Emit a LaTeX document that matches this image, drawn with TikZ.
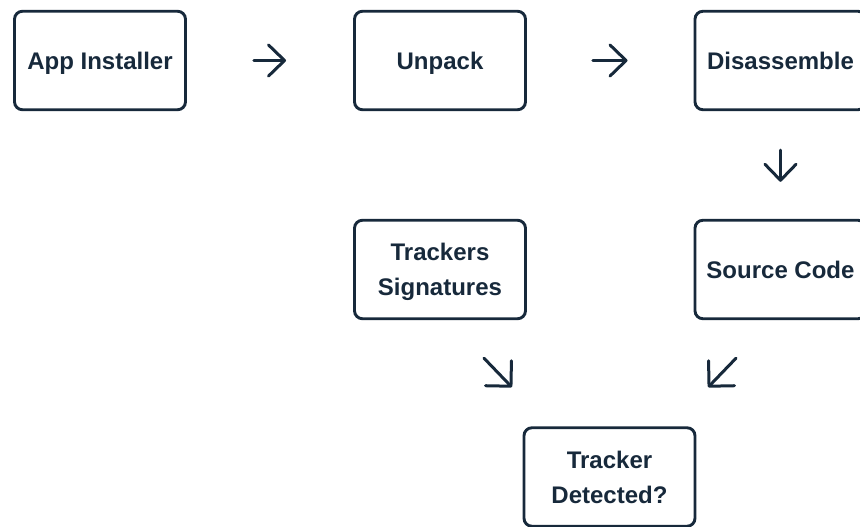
\documentclass[tikz,border=0pt]{standalone}
\usepackage{fontspec}
\setmainfont{Liberation Sans}
\usetikzlibrary{arrows.meta}
\definecolor{navy}{HTML}{17293B}
\tikzset{
  box/.style={draw=navy, line width=2.9pt, rounded corners=8pt, minimum width=171pt, minimum height=98.5pt,
    inner sep=0pt, align=center, text=navy, text depth=0pt, font=\bfseries\fontsize{24}{35}\selectfont},
  arr/.style={draw=navy, line width=3pt, line cap=round,
    -{Straight Barb[length=16pt, width=31pt, line cap=round, line join=round]}},
  darr/.style={draw=navy, line width=3pt, line cap=round,
    -{Straight Barb[length=18pt, width=36pt, line cap=round, line join=round]}}
}
\begin{document}
\begin{tikzpicture}[x=1pt, y=-1pt]
\clip (0,0) rectangle (860,527);
\node[box] (app) at (100,60.5) {App Installer};
\node[box] (unpack) at (440,60.5) {Unpack};
\node[box] (disas) at (780.5,60.5) {Disassemble};
\node[box] (trk) at (440,269.5) {Trackers\\Signatures};
\node[box] (src) at (780.5,269.5) {Source Code};
\node[box] (det) at (609.5,477) {Tracker\\Detected?};
\draw[arr, shorten <=67pt, shorten >=67pt] (app.east) -- (unpack.west);
\draw[arr, shorten <=66pt, shorten >=66pt] (unpack.east) -- (disas.west);
\draw[arr, shorten <=39pt, shorten >=37pt] (disas.south) -- (src.north);
\draw[darr] ([shift={(44,38)}]trk.south) -- ([shift={(-97.5,-39)}]det.north);
\draw[darr] ([shift={(-44.5,38)}]src.south) -- ([shift={(98.5,-39)}]det.north);
\end{tikzpicture}
\end{document}
